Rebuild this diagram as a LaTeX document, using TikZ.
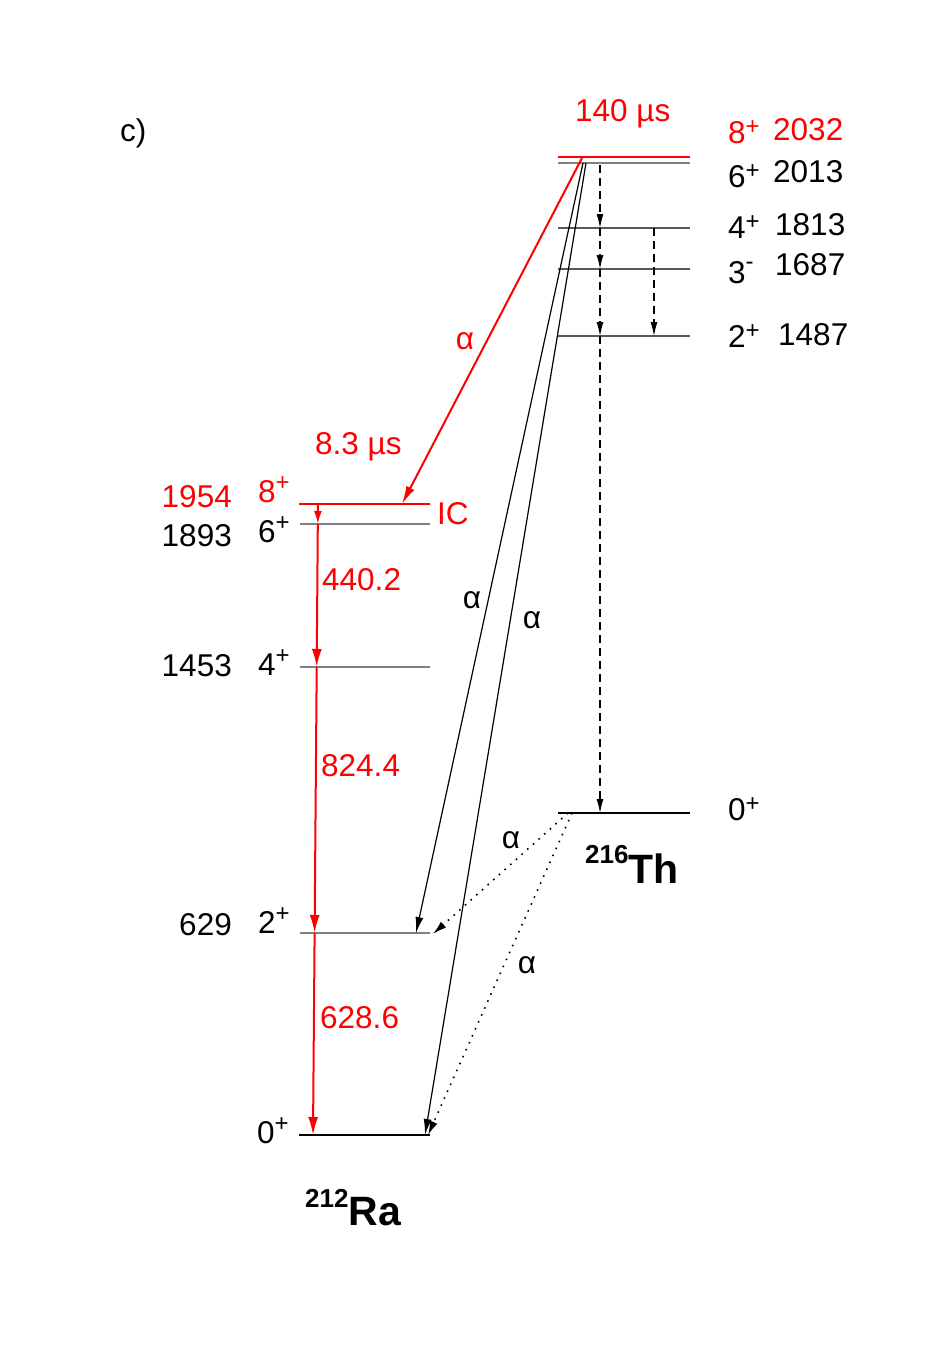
\documentclass[tikz,border=0pt]{standalone}
\usepackage{fontspec}
\setmainfont{Liberation Sans}
\usetikzlibrary{arrows.meta}
\newcommand\spinlab[3][9pt]{#2\raisebox{#1}{\fontsize{24}{24}\selectfont #3}}
\begin{document}
\begin{tikzpicture}[x=1pt,y=-1pt,
  lvl/.style={draw=gray, line width=1.1pt},
  lvldk/.style={draw=black!65, line width=1.1pt},
  lvlred/.style={draw=red, line width=2pt},
  lvlblk/.style={draw=black, line width=1.8pt},
  txt/.style={inner sep=0pt, font=\fontsize{31.5}{36}\selectfont},
  rtxt/.style={txt, text=red},
  big/.style={inner sep=0pt, font=\fontsize{41}{46}\selectfont\bfseries},
  gred/.style={draw=red, line width=2pt, -{Latex[length=18pt,width=10pt]}},
  alphablk/.style={draw=black, line width=1.2pt, -{Latex[length=16pt,width=8pt]}},
  alphadot/.style={draw=black, line width=1.6pt, dash pattern=on 1.6pt off 6pt, -{Latex[length=14pt,width=8pt]}},
  gdash/.style={draw=black, line width=1.1pt, dash pattern=on 8pt off 5pt, -{Latex[length=14pt,width=7pt]}}
]
\useasboundingbox (0,0) rectangle (950,1362);

% ---------- 216Th levels ----------
\coordinate (th8L) at (558,157); \coordinate (th8R) at (690,157);
\coordinate (th6L) at (558,163); \coordinate (th6R) at (690,163);
\coordinate (th4L) at (558,228); \coordinate (th4R) at (690,228);
\coordinate (th3L) at (558,269); \coordinate (th3R) at (690,269);
\coordinate (th2L) at (558,336); \coordinate (th2R) at (690,336);
\coordinate (th0L) at (558,813); \coordinate (th0R) at (690,813);
\draw[lvl] (th6L) -- (th6R);
\draw[lvldk] (th4L) -- (th4R);
\draw[lvldk] (th3L) -- (th3R);
\draw[lvldk] (th2L) -- (th2R);
\draw[lvlblk] (th0L) -- (th0R);
\draw[lvlred] (th8L) -- (th8R);

% ---------- 212Ra levels ----------
\coordinate (ra8L) at (299,504); \coordinate (ra8R) at (430,504);
\coordinate (ra6L) at (300,524); \coordinate (ra6R) at (430,524);
\coordinate (ra4L) at (300,667); \coordinate (ra4R) at (430,667);
\coordinate (ra2L) at (300,933); \coordinate (ra2R) at (430,933);
\coordinate (ra0L) at (299,1135); \coordinate (ra0R) at (430,1135);
\draw[lvl] (ra6L) -- (ra6R);
\draw[lvl] (ra4L) -- (ra4R);
\draw[lvl] (ra2L) -- (ra2R);
\draw[lvlblk] (ra0L) -- (ra0R);
\draw[lvlred] (ra8L) -- (ra8R);

% ---------- gamma cascade in 212Ra ----------
\coordinate (g8) at (318,504);
\coordinate (g6) at (317.8,524);
\coordinate (g4) at (316.7,667);
\coordinate (g2) at (314.6,933);
\coordinate (g0) at (313,1135);
\draw[gred, -{Latex[length=13pt,width=8pt]}] (g8) -- (g6);
\draw[gred] (g6) -- (g4);
\draw[gred] (g4) -- (g2);
\draw[gred] (g2) -- (g0);

% ---------- gamma cascade in 216Th ----------
\coordinate (d6) at (600,165);
\coordinate (d4) at (600,228);
\coordinate (d3) at (600,269);
\coordinate (d2) at (600,336);
\coordinate (d0) at (600,813);
\coordinate (e4) at (654,228);
\coordinate (e2) at (654,336);
\draw[gdash] (d6) -- (d4);
\draw[gdash] (d4) -- (d3);
\draw[gdash] (d3) -- (d2);
\draw[gdash] (d2) -- (d0);
\draw[gdash] (e4) -- (e2);

% ---------- alpha decays ----------
\coordinate (aRs) at (582,158); \coordinate (aRe) at (402,504);
\draw[gred, -{Latex[length=18pt,width=9pt]}] (aRs) -- (aRe);
\coordinate (a1s) at (583,163); \coordinate (a1e) at (416,933);
\coordinate (a2s) at (586,163); \coordinate (a2e) at (425,1135);
\draw[alphablk] (a1s) -- (a1e);
\draw[alphablk] (a2s) -- (a2e);
\coordinate (b1s) at (568,813); \coordinate (b1e) at (433,934);
\coordinate (b2s) at (572,813); \coordinate (b2e) at (428,1135);
\draw[alphadot] (b1s) -- (b1e);
\draw[alphadot] (b2s) -- (b2e);

% ---------- labels: 216Th ----------
\node[rtxt, anchor=base west] (l8) at (728,143) {\spinlab{8}{+}};
\node[rtxt, anchor=base west] (e8) at (773,140) {2032};
\node[txt, anchor=base west] (l6) at (728,187) {\spinlab{6}{+}};
\node[txt, anchor=base west] (e6) at (773,182) {2013};
\node[txt, anchor=base west] (l4) at (728,238) {\spinlab{4}{+}};
\node[txt, anchor=base west] (e4t) at (775,235) {1813};
\node[txt, anchor=base west] (l3) at (728,283) {\spinlab[14pt]{3}{-}};
\node[txt, anchor=base west] (e3t) at (775,275) {1687};
\node[txt, anchor=base west] (l2) at (728,347) {\spinlab{2}{+}};
\node[txt, anchor=base west] (e2t) at (778,345) {1487};
\node[txt, anchor=base west] (l0) at (728,820) {\spinlab{0}{+}};
\node[rtxt, anchor=base west] (t140) at (575,122) {140 \textmu s};
\node[big, anchor=base west] (thn) at (585,883) {\raisebox{20pt}{\fontsize{26}{26}\selectfont 216}Th};

% ---------- labels: 212Ra ----------
\node[rtxt, anchor=base east] (r1954) at (232,507) {1954};
\node[rtxt, anchor=base west] (r8) at (258,502) {\spinlab[12pt]{8}{+}};
\node[txt, anchor=base east] (r1893) at (232,546) {1893};
\node[txt, anchor=base west] (r6) at (258,542) {\spinlab[12pt]{6}{+}};
\node[txt, anchor=base east] (r1453) at (232,676) {1453};
\node[txt, anchor=base west] (r4) at (258,675) {\spinlab[12pt]{4}{+}};
\node[txt, anchor=base east] (r629) at (232,935) {629};
\node[txt, anchor=base west] (r2) at (258,933) {\spinlab[12pt]{2}{+}};
\node[txt, anchor=base west] (r0) at (257,1143) {\spinlab[12pt]{0}{+}};
\node[rtxt, anchor=base west] (t83) at (315,454) {8.3 \textmu s};
\node[rtxt, anchor=base west] (ic) at (437,524) {IC};
\node[rtxt, anchor=base west] (g440) at (322,590) {440.2};
\node[rtxt, anchor=base west] (g824) at (321,776) {824.4};
\node[rtxt, anchor=base west] (g628) at (320,1028) {628.6};
\node[big, anchor=base west] (ran) at (305,1225) {\raisebox{18pt}{\fontsize{26}{26}\selectfont 212}Ra};

% ---------- alpha labels ----------
\node[rtxt] (alR) at (465,341) {α};
\node[txt] (al1) at (472,600) {α};
\node[txt] (al2) at (532,620) {α};
\node[txt] (al3) at (511,840) {α};
\node[txt] (al4) at (527,965) {α};

\node[txt, anchor=base west] (c) at (120,142) {c)};
\end{tikzpicture}
\end{document}
